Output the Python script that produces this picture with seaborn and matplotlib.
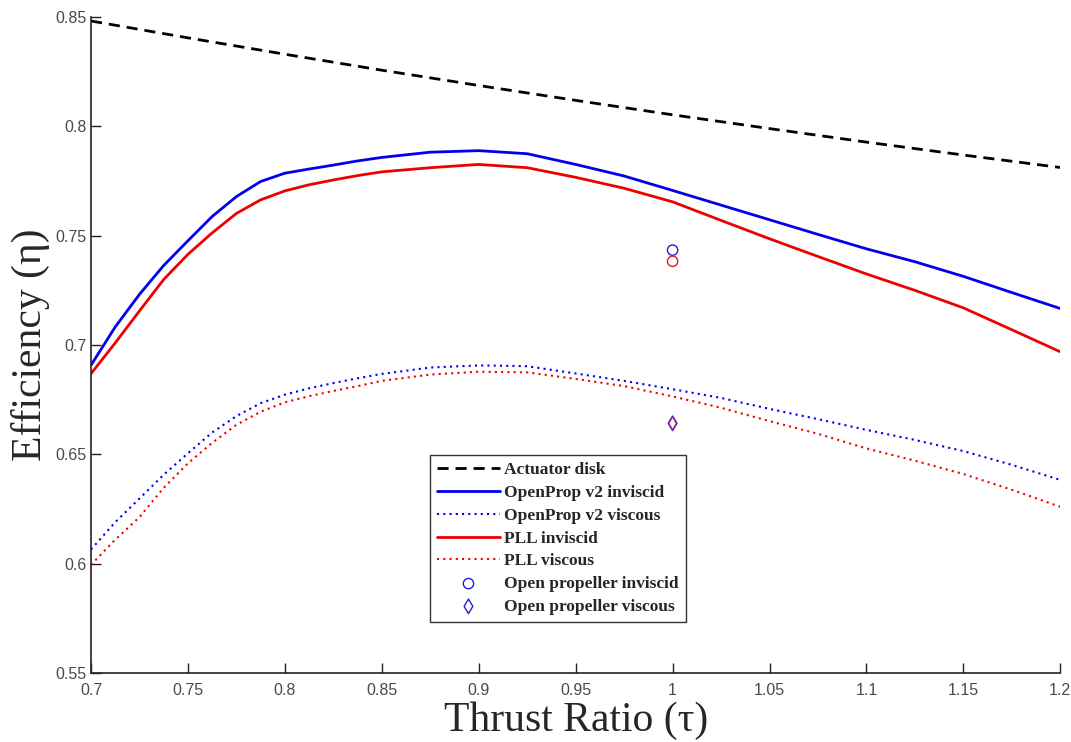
import numpy as np
import pandas as pd
import matplotlib
matplotlib.use("Agg")
import matplotlib.pyplot as plt
import seaborn as sns

# thrust ratio grids (finer where the curves bend)
tau_ad = [0.70, 0.75, 0.80, 0.85, 0.90, 0.95, 1.00, 1.05, 1.10, 1.15, 1.20]
tau = [0.700, 0.7125, 0.725, 0.7375, 0.750, 0.7625, 0.775, 0.7875, 0.800, 0.8125, 0.825, 0.8375,
       0.850, 0.875, 0.900, 0.925, 0.950, 0.975, 1.000, 1.025, 1.050, 1.075, 1.100, 1.125,
       1.150, 1.175, 1.200]

actuator_disk = [0.8482, 0.8405, 0.8330, 0.8257, 0.8187, 0.8119, 0.8053, 0.7990, 0.7928, 0.7869, 0.7812]

openprop_inviscid = [0.6908, 0.7083, 0.7232, 0.7364, 0.7477, 0.7588, 0.7679, 0.7748, 0.7786, 0.7805,
                     0.7823, 0.7842, 0.7858, 0.7882, 0.7889, 0.7875, 0.7826, 0.7773, 0.7707, 0.7640,
                     0.7573, 0.7506, 0.7440, 0.7381, 0.7314, 0.7240, 0.7167]
pll_inviscid = [0.6869, 0.7010, 0.7156, 0.7300, 0.7415, 0.7513, 0.7602, 0.7664, 0.7705, 0.7733,
                0.7755, 0.7775, 0.7792, 0.7811, 0.7826, 0.7811, 0.7767, 0.7717, 0.7655, 0.7570,
                0.7486, 0.7405, 0.7325, 0.7250, 0.7170, 0.7070, 0.6969]
openprop_viscous = [0.6065, 0.6190, 0.6298, 0.6407, 0.6505, 0.6600, 0.6675, 0.6734, 0.6773, 0.6802,
                    0.6826, 0.6848, 0.6868, 0.6897, 0.6907, 0.6903, 0.6870, 0.6836, 0.6798, 0.6758,
                    0.6708, 0.6661, 0.6612, 0.6566, 0.6515, 0.6452, 0.6383]
pll_viscous = [0.5995, 0.6110, 0.6213, 0.6347, 0.6459, 0.6553, 0.6635, 0.6695, 0.6738, 0.6766,
               0.6790, 0.6812, 0.6836, 0.6865, 0.6878, 0.6875, 0.6845, 0.6812, 0.6765, 0.6713,
               0.6652, 0.6594, 0.6527, 0.6471, 0.6410, 0.6338, 0.6260]

# open propeller single points at tau = 1
open_tau = [1.0]
open_inv_blue = [0.7434]
open_inv_red = [0.7383]
open_visc = [0.6642]

sns.set_style("ticks")
plt.rcParams['font.family'] = ['Liberation Sans', 'DejaVu Sans']
serif = ['Liberation Serif', 'DejaVu Serif']

fig = plt.figure(figsize=(10.71, 7.42), dpi=100)
ax = fig.add_axes([0.085, 0.093, 0.905, 0.884])

sns.lineplot(x=tau_ad, y=actuator_disk, ax=ax, color='black', lw=2, linestyle=(0, (4, 2.5)),
             label='Actuator disk')
sns.lineplot(x=tau, y=openprop_inviscid, ax=ax, color='#0000ee', lw=2,
             label='OpenProp v2 inviscid')
sns.lineplot(x=tau, y=openprop_viscous, ax=ax, color='#0000ee', lw=1.5, linestyle=(0, (1, 2)),
             label='OpenProp v2 viscous')
sns.lineplot(x=tau, y=pll_inviscid, ax=ax, color='#ee0000', lw=2,
             label='PLL inviscid')
sns.lineplot(x=tau, y=pll_viscous, ax=ax, color='#ee0000', lw=1.5, linestyle=(0, (1, 2)),
             label='PLL viscous')
sns.scatterplot(x=open_tau, y=open_inv_blue, ax=ax, marker='o', s=55, facecolor='none',
                edgecolor='#2020cc', linewidth=1, label='Open propeller inviscid')
sns.scatterplot(x=open_tau, y=open_inv_red, ax=ax, marker='o', s=55, facecolor='none',
                edgecolor='#dd2020', linewidth=1)
sns.scatterplot(x=open_tau, y=open_visc, ax=ax, marker='d', s=55, facecolor='none',
                edgecolor='#2020cc', linewidth=1, label='Open propeller viscous')
sns.scatterplot(x=open_tau, y=open_visc, ax=ax, marker='d', s=40, facecolor='none',
                edgecolor='#cc2060', linewidth=0.8)

ax.set_xlim(0.7, 1.2)
ax.set_ylim(0.55, 0.85)
ax.set_xticks(np.arange(0.7, 1.2001, 0.05))
ax.set_yticks(np.arange(0.55, 0.8501, 0.05))
ax.set_xticklabels(['0.7', '0.75', '0.8', '0.85', '0.9', '0.95', '1', '1.05', '1.1', '1.15', '1.2'])
ax.set_yticklabels(['0.55', '0.6', '0.65', '0.7', '0.75', '0.8', '0.85'])
ax.tick_params(direction='in', length=7, width=1, labelsize=11.5, labelcolor='#4a4a4a', colors='#222222')
ax.tick_params(axis='x', pad=7)
ax.tick_params(axis='y', pad=3)
sns.despine(ax=ax)
for s in ['left', 'bottom']:
    ax.spines[s].set_linewidth(1.2)
    ax.spines[s].set_color('#222222')

ax.set_xlabel('Thrust Ratio (τ)', fontsize=30, family=serif, labelpad=3)
ax.set_ylabel('Efficiency (η)', fontsize=30, family=serif, labelpad=4)

leg = ax.legend(loc='lower left', bbox_to_anchor=(0.35, 0.078), frameon=True, fancybox=False,
                edgecolor='black', handlelength=3.6, handletextpad=0.25, labelspacing=0.38,
                borderpad=0.4, borderaxespad=0,
                prop={'family': serif, 'weight': 'bold', 'size': 12.5})
leg.get_frame().set_linewidth(1)

fig.savefig('out.png', dpi=100)
